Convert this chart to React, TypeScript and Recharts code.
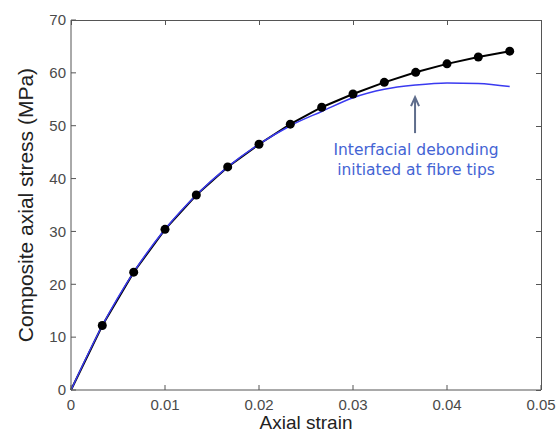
import { Label, Line, LineChart, ReferenceLine, XAxis, YAxis } from "recharts";

// axial strain at each measurement
const STRAIN = [
  0, 0.00333, 0.00667, 0.01, 0.01333, 0.01667, 0.02, 0.02333,
  0.02667, 0.03, 0.03333, 0.03667, 0.04, 0.04333, 0.04667,
];
// composite axial stress (MPa), measured (black dots)
const MEASURED = [
  0, 12.2, 22.3, 30.4, 36.9, 42.2, 46.5, 50.3,
  53.5, 56.0, 58.2, 60.1, 61.7, 63.0, 64.1,
];
// model with debonding (blue line)
const MODEL = [
  0, 12.2, 22.3, 30.4, 36.9, 42.2, 46.5, 50.0,
  52.7, 55.3, 56.9, 57.7, 58.1, 58.0, 57.4,
];

const X_TICKS = [0, 0.01, 0.02, 0.03, 0.04, 0.05];
const Y_TICKS = [0, 10, 20, 30, 40, 50, 60, 70];
const X_MAX = 0.05;
const Y_MAX = 70;

// arrow pointing at the debonding onset
const ARROW_X = 0.0366;
const ARROW_FROM = 48.6;
const ARROW_TO = 55.4;
const NOTE = ["Interfacial debonding", "initiated at fibre tips"];

const rows = STRAIN.map((x, i) => ({ x, measured: MEASURED[i], model: MODEL[i] }));

const W = 560;
const H = 435;
const M = { top: 20, right: 19, left: 0, bottom: 0 };
const Y_AXIS_W = 71;
const X_AXIS_H = 45;
const AXIS = "#555";
const TICK_TEXT = { fontSize: 15, fill: "#4a4a4a" };

function Arrow(props: any) {
  const { x1, y1, x2, y2 } = props;
  const c = "#5f6d8c";
  return (
    <g>
      <line x1={x1} y1={y1} x2={x2} y2={y2} stroke={c} strokeWidth={2} />
      <polyline
        points={`${x2 - 4},${y2 + 9} ${x2},${y2} ${x2 + 4},${y2 + 9}`}
        fill="none"
        stroke={c}
        strokeWidth={2}
      />
      {NOTE.map((t, i) => (
        <text
          key={t}
          x={x1 + 1}
          y={y1 + 22 + i * 20}
          textAnchor="middle"
          fill="#4464d4"
          style={{ fontFamily: "DejaVu Sans", fontSize: 15.5 }}
        >
          {t}
        </text>
      ))}
    </g>
  );
}

// no marker on the origin point
function Dot(props: any) {
  const { cx, cy, index } = props;
  if (index === 0) return <g key={index} />;
  return <circle key={index} cx={cx} cy={cy} r={4.5} fill="#000" />;
}

// top and right edges of the MATLAB-style box, laid over the chart
function Frame() {
  const left = M.left + Y_AXIS_W;
  const top = M.top;
  const pw = W - M.right - left;
  const ph = H - M.bottom - X_AXIS_H - top;
  const edge = { position: "absolute" as const, background: AXIS };
  return (
    <div style={{ position: "absolute", left: 0, top: 0, width: W, height: H, pointerEvents: "none" }}>
      <div style={{ ...edge, left, top, width: pw + 1, height: 1 }} />
      <div style={{ ...edge, left: left + pw, top, width: 1, height: ph }} />
      {X_TICKS.map((t) => (
        <div key={"t" + t} style={{ ...edge, left: left + (pw * t) / X_MAX, top, width: 1, height: 5 }} />
      ))}
      {Y_TICKS.map((t) => (
        <div key={"r" + t} style={{ ...edge, left: left + pw - 5, top: top + ph - (ph * t) / Y_MAX, width: 5, height: 1 }} />
      ))}
    </div>
  );
}

export default function App() {
  return (
    <div style={{ position: "absolute", left: 0, top: 0, width: W, height: H, background: "#fff" }}>
      <LineChart
        width={W}
        height={H}
        data={rows}
        margin={M}
        style={{ fontFamily: "'Liberation Sans', Arial, sans-serif" }}
      >
        <XAxis
          dataKey="x"
          type="number"
          domain={[0, X_MAX]}
          ticks={X_TICKS}
          height={X_AXIS_H}
          tickSize={-5}
          tickMargin={14}
          stroke={AXIS}
          tick={TICK_TEXT}
        >
          <Label
            content={({ viewBox }: any) => (
              <text
                x={viewBox.x + viewBox.width / 2}
                y={viewBox.y + 39}
                textAnchor="middle"
                fill="#222"
                fontSize={19}
              >
                Axial strain
              </text>
            )}
          />
        </XAxis>
        <YAxis
          type="number"
          domain={[0, Y_MAX]}
          ticks={Y_TICKS}
          width={Y_AXIS_W}
          tickSize={-5}
          tickMargin={10}
          stroke={AXIS}
          tick={TICK_TEXT}
        >
          <Label
            content={({ viewBox }: any) => {
              const cx = 33;
              const cy = viewBox.y + viewBox.height / 2;
              return (
                <text
                  x={cx}
                  y={cy}
                  transform={`rotate(-90 ${cx} ${cy})`}
                  textAnchor="middle"
                  fill="#222"
                  fontSize={21}
                >
                  Composite axial stress (MPa)
                </text>
              );
            }}
          />
        </YAxis>
        <Line
          dataKey="measured"
          type="linear"
          stroke="#000"
          strokeWidth={2}
          dot={<Dot />}
          isAnimationActive={false}
        />
        <Line
          dataKey="model"
          type="monotone"
          stroke="#3a3af0"
          strokeWidth={1.5}
          dot={false}
          isAnimationActive={false}
        />
        <ReferenceLine
          segment={[
            { x: ARROW_X, y: ARROW_FROM },
            { x: ARROW_X, y: ARROW_TO },
          ]}
          shape={<Arrow />}
        />
      </LineChart>
      <Frame />
    </div>
  );
}
